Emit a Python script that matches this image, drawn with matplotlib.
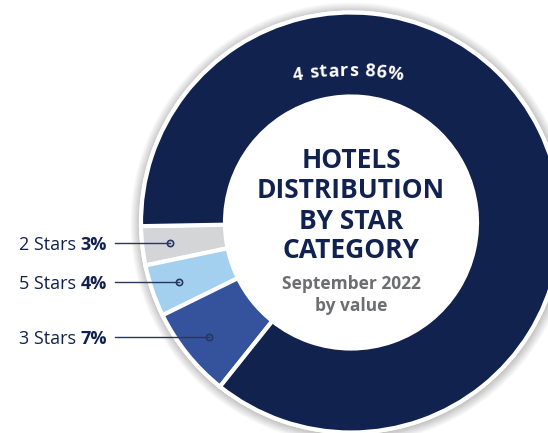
import numpy as np
import matplotlib.pyplot as plt
from matplotlib.patches import Circle
from matplotlib.font_manager import FontProperties

# данні
categories = ['2 Stars', '5 Stars', '3 Stars', '4 stars']
shares = [3, 4, 7, 86]
colors = ['#d4d5d7', '#a4d0ef', '#34539c', '#12224f']

title_lines = ['HOTELS', 'DISTRIBUTION', 'BY STAR', 'CATEGORY']
subtitle_lines = ['September 2022', 'by value']

W, H = 548, 433
navy = '#12224f'

fig = plt.figure(figsize=(W / 100, H / 100), dpi=100)
ax = fig.add_axes([0, 0, 1, 1])

cx, cy = 351, H - 222.5
R = 210
ring = 84

# тінь навколо кільця
for i in range(10):
    ax.add_patch(Circle((cx + 0.5, cy - 1), R + 2 + i, color='black', alpha=0.022, lw=0, zorder=0))
ax.add_patch(Circle((cx, cy), R + 2, color='white', lw=0, zorder=1))

wedges, _ = ax.pie(shares, colors=colors, startangle=181, counterclock=True,
                   center=(cx, cy), radius=R,
                   wedgeprops=dict(width=ring, edgecolor='white', linewidth=3))
for w in wedges:
    w.set_zorder(2)

ax.set_xlim(0, W)
ax.set_ylim(0, H)
ax.set_aspect('auto')
ax.axis('off')

# підписи зліва
fig.canvas.draw()
renderer = fig.canvas.get_renderer()
total = sum(shares)
start = 181
acc = 0
for name, val in zip(categories[:3], shares[:3]):
    mid = np.deg2rad(start + (acc + val / 2) / total * 360)
    acc += val
    dx, dy = cx + 182 * np.cos(mid), cy + 182 * np.sin(mid)
    ax.plot([115, dx], [dy, dy], color='#2a3560', lw=1, zorder=3)
    ax.plot(dx, dy, 'o', ms=4.5, mfc='none', mec='#2a3560', mew=1.2, zorder=4)
    tb = ax.text(107, dy, f'{val}%', ha='right', va='center_baseline', fontsize=13,
                 fontweight='bold', family='Open Sans', color=navy)
    bb = tb.get_window_extent(renderer)
    x0 = ax.transData.inverted().transform((bb.x0, 0))[0]
    ax.text(x0, dy, name + ' ', ha='right', va='center_baseline', fontsize=13,
            family='Open Sans', color=navy)

# дугоподібний підпис 4 stars
label = f'{categories[3]} {shares[3]}%'
fp = FontProperties(family='Open Sans', weight='bold', size=13)
track = 0.8
widths = [renderer.get_text_width_height_descent(label[:i], fp, ismath=False)[0] if i else 0
          for i in range(len(label) + 1)]
pos = [(widths[i] + widths[i + 1]) / 2 + track * i for i in range(len(label))]
full = widths[-1] + track * (len(label) - 1)
arc_r = 300
acx, acy = cx - 3, (H - 76) - arc_r
for ch, p in zip(label, pos):
    th = np.pi / 2 + (full / 2 - p) / arc_r
    ax.text(acx + arc_r * np.cos(th), acy + arc_r * np.sin(th), ch,
            fontproperties=fp, color='white', ha='center', va='baseline',
            rotation=np.rad2deg(th) - 90, rotation_mode='anchor', zorder=5)

# центральний заголовок
for line, y in zip(title_lines, [168, 198, 229, 258]):
    ax.text(cx, H - y, line, ha='center', va='baseline', fontsize=19,
            fontweight='bold', family='Open Sans', color=navy)
for line, y in zip(subtitle_lines, [289, 311]):
    ax.text(cx, H - y, line, ha='center', va='baseline', fontsize=12.5,
            fontweight='bold', family='Open Sans', color='#6d6e71')

plt.savefig('out.png', dpi=100)
